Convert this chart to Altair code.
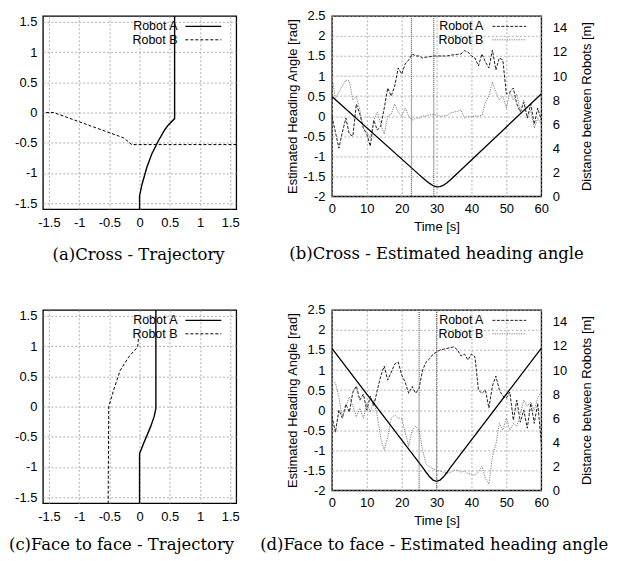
import altair as alt
import pandas as pd

# ---------------- data ----------------
# (a) Cross - Trajectory
a_A_x = [0.0, 0.0, 0.04, 0.12, 0.2, 0.31, 0.42, 0.48, 0.58, 0.58]
a_A_y = [-1.6, -1.38, -1.19, -0.91, -0.69, -0.47, -0.28, -0.2, -0.1, 1.6]
a_B_x = [-1.55, -1.42, -0.26, -0.13, 1.6]
a_B_y = [0.0, 0.0, -0.42, -0.53, -0.53]

# (c) Face to face - Trajectory
c_A_x = [0.0, 0.0, 0.066, 0.18, 0.24, 0.27, 0.27]
c_A_y = [-1.6, -0.78, -0.61, -0.34, -0.17, -0.03, 1.6]
c_B_x = [-0.02, -0.03, -0.18, -0.32, -0.43, -0.51, -0.52]
c_B_y = [1.12, 0.99, 0.82, 0.6, 0.27, 0.0, -1.6]

# time axis for heading estimates
time_s = list(range(61))

# (b) Cross - Estimated heading angle
b_A = [0.0, -0.4, -0.8, -0.4, -0.05, -0.45, -0.5, 0.3, 0.05, -0.3,
       -0.45, -0.75, -0.1, -0.35, -0.25, 0.2, 0.7, 0.5, 0.75, 1.2,
       1.05, 1.3, 1.4, 1.55, 1.5, 1.5, 1.45, 1.47, 1.48, 1.5,
       1.5, 1.5, 1.5, 1.5, 1.52, 1.53, 1.54, 1.55, 1.63, 1.6,
       1.5, 1.45, 1.25, 1.55, 1.35, 1.2, 1.65, 1.15, 1.45, 1.4,
       0.55, 0.6, 0.7, 0.3, 0.1, 0.35, -0.05, 0.3, -0.2, 0.2, -0.1]
b_B = [1.0, 0.45, 0.6, 0.75, 0.9, 0.88, 0.4, 0.5, 0.15, -0.3,
       -0.4, -0.55, -0.1, 0.1, -0.2, -0.45, 0.0, 0.05, 0.3, 0.1,
       0.0, 0.2, 0.0, -0.1, -0.05, -0.05, 0.0, 0.0, 0.03, 0.04,
       0.03, 0.0, 0.0, 0.02, 0.08, 0.1, 0.12, 0.15, -0.05, 0.0,
       -0.02, 0.0, 0.0, 0.02, 0.35, 0.5, 0.85, 0.6, 0.4, 0.5,
       0.2, 0.6, 0.4, 0.55, 0.1, 0.4, 0.0, 0.15, -0.3, -0.05, -0.2]
b_dist_t = [0, 25, 26, 27, 28, 29, 30, 31, 32, 33, 34, 35, 60]
b_dist = [8.3, 1.8, 1.55, 1.3, 1.07, 0.88, 0.78, 0.8, 0.92, 1.12, 1.38, 1.65, 8.5]
b_events = [22.8, 29.2]

# (d) Face to face - Estimated heading angle
d_A = [-0.15, -0.55, 0.0, -0.2, 0.15, -0.05, 0.45, 0.6, 0.25, 0.4,
       0.0, 0.35, 0.1, 0.5, 0.85, 1.1, 0.75, 0.95, 1.15, 1.2,
       0.87, 0.7, 0.42, 0.59, 0.42, 0.55, 1.0, 1.2, 1.28, 1.4,
       1.45, 1.5, 1.52, 1.54, 1.56, 1.58, 1.5, 1.35, 1.4, 1.25,
       1.4, 1.33, 0.5, 0.42, 0.5, 0.05, 0.6, 0.85, 0.5, 0.35,
       0.3, 0.45, -0.25, 0.25, -0.3, 0.0, -0.45, 0.17, -0.33, 0.17, -0.8]
d_B = [0.7, 0.68, 0.33, -0.2, 0.1, 0.33, 0.1, -0.17, 0.05, -0.2,
       0.17, -0.05, 0.25, -0.15, -0.7, -1.0, -0.66, -0.2, -0.12, -0.2,
       -0.2, -0.55, -0.9, -0.5, -0.4, -0.5, -1.0, -1.35, -1.42, -1.46,
       -1.5, -1.52, -1.55, -1.58, -1.55, -1.5, -1.5, -1.55, -1.52, -1.58,
       -1.6, -1.62, -1.55, -1.4, -1.7, -1.85, -1.16, -0.85, -0.33, -0.5,
       -0.2, -0.5, -0.33, -0.4, -0.1, 0.25, 0.1, 0.2, 0.0, 0.3, 0.45]
d_dist_t = [0, 26, 27, 28, 29, 30, 31, 32, 33, 34, 60]
d_dist = [11.8, 1.9, 1.5, 1.12, 0.85, 0.75, 0.85, 1.12, 1.5, 1.9, 11.8]
d_events = [25, 30]

robots = ["Robot A", "Robot B"]
traj_ticks = [-1.5, -1, -0.5, 0, 0.5, 1, 1.5]
time_ticks = [0, 10, 20, 30, 40, 50, 60]
angle_ticks = [-2, -1.5, -1, -0.5, 0, 0.5, 1, 1.5, 2, 2.5]
dist_ticks = [0, 2, 4, 6, 8, 10, 12, 14]

captions = ["(a)Cross - Trajectory", "(b)Cross - Estimated heading angle",
            "(c)Face to face - Trajectory", "(d)Face to face - Estimated heading angle"]

# ---------------- styling ----------------
FONT = "Liberation Sans"
SERIF = "DejaVu Serif"
CAP_SIZE = 16.5
SQ = 194          # trajectory panel size
HW, HH = 210, 181  # heading panel size


def axis(**kw):
    base = dict(grid=True, gridColor="#9a9a9a", gridDash=[2, 2], gridWidth=0.8,
                domain=False, ticks=False, tickSize=0, labelFont=FONT,
                labelFontSize=13, labelColor="black", titleFont=FONT,
                titleFontSize=13, titleFontWeight="normal", titleColor="black",
                labelExpr="toString(datum.value)", labelOverlap=False,
                labelFlush=False)
    base.update(kw)
    return alt.Axis(**base)


def legend(text_end, s0, s1, styles):
    layers = []
    for lab, yy, st in zip(robots, [10.5, 24], styles):
        ldf = pd.DataFrame({"label": [lab]})
        layers.append(
            alt.Chart(ldf).mark_text(align="right", baseline="middle", font=FONT,
                                     fontSize=12.5, color="black")
            .encode(x=alt.value(text_end), y=alt.value(yy), text="label:N"))
        layers.append(
            alt.Chart(ldf).mark_rule(**st)
            .encode(x=alt.value(s0), x2=alt.value(s1), y=alt.value(yy)))
    return layers


def caption(text, anchor, dx, offset):
    return alt.TitleParams(text=text, orient="bottom", anchor=anchor, dx=dx,
                           offset=offset, frame="group", font=SERIF,
                           fontSize=CAP_SIZE, fontWeight="normal", color="black",
                           baseline="top")


def traj_panel(ax_, ay_, bx_, by_, title):
    dfa = pd.DataFrame({"x": ax_, "y": ay_, "i": list(range(len(ax_)))})
    dfb = pd.DataFrame({"x": bx_, "y": by_, "i": list(range(len(bx_)))})
    sc = alt.Scale(domain=[-1.6, 1.6], nice=False, zero=False)
    xa = axis(values=traj_ticks, title=None, labelPadding=7)
    ya = axis(values=traj_ticks, title=None, labelPadding=6)
    la = alt.Chart(dfa).mark_line(color="black", strokeWidth=1.4, clip=True).encode(
        x=alt.X("x:Q", scale=sc, axis=xa),
        y=alt.Y("y:Q", scale=sc, axis=ya),
        order="i:Q")
    lb = alt.Chart(dfb).mark_line(color="black", strokeWidth=1, strokeDash=[3, 2], clip=True).encode(
        x=alt.X("x:Q", scale=sc, axis=xa),
        y=alt.Y("y:Q", scale=sc, axis=ya),
        order="i:Q")
    leg = legend(135, 143, 179, [dict(color="black", strokeWidth=1.4),
                                 dict(color="black", strokeWidth=1, strokeDash=[3, 2])])
    return alt.layer(la, lb, *leg).properties(
        width=SQ, height=SQ, title=title,
        view=alt.ViewBackground(stroke="black", strokeWidth=1.3, fill="white"))


def heading_panel(a_vals, b_vals, dt, dv, events, title):
    n = len(time_s)
    hdf = pd.DataFrame({"t": time_s * 2, "angle": a_vals + b_vals,
                        "robot": [robots[0]] * n + [robots[1]] * n})
    ddf = pd.DataFrame({"t": dt, "d": dv})
    edf = pd.DataFrame({"t": events})
    xs = alt.Scale(domain=[0, 60], nice=False)
    xa = axis(values=time_ticks, title="Time [s]", labelPadding=6, titlePadding=5)
    head = alt.Chart(hdf).mark_line(strokeWidth=1, clip=True).encode(
        x=alt.X("t:Q", scale=xs, axis=xa),
        y=alt.Y("angle:Q", scale=alt.Scale(domain=[-2, 2.5], nice=False),
                axis=axis(values=angle_ticks, title="Estimated Heading Angle [rad]",
                          orient="left", labelPadding=7, titlePadding=3)),
        color=alt.Color("robot:N", scale=alt.Scale(domain=robots, range=["#1e1e1e", "#808080"]), legend=None),
        strokeDash=alt.StrokeDash("robot:N", scale=alt.Scale(domain=robots, range=[[3, 1.5], [1.2, 1.2]]), legend=None),
    )
    ev = alt.Chart(edf).mark_rule(color="#555555", strokeWidth=1.2, strokeDash=[1, 1]).encode(
        x=alt.X("t:Q", scale=xs, axis=xa))
    dist = alt.Chart(ddf).mark_line(color="black", strokeWidth=1.3, clip=True).encode(
        x=alt.X("t:Q", scale=xs, axis=xa),
        y=alt.Y("d:Q", scale=alt.Scale(domain=[0, 15], nice=False),
                axis=axis(values=dist_ticks, grid=False, orient="right",
                          title="Distance between Robots [m]", labelPadding=11,
                          titlePadding=14, titleAngle=270, titleBaseline="top")))
    leg = legend(152, 161, 195, [dict(color="#1e1e1e", strokeWidth=1, strokeDash=[3, 1.5]),
                                 dict(color="#808080", strokeWidth=1, strokeDash=[1.2, 1.2])])
    return alt.layer(head, dist, ev, *leg).resolve_scale(y="independent").properties(
        width=HW, height=HH, title=title,
        view=alt.ViewBackground(stroke="black", strokeWidth=1.3, fill="white"))


pa = traj_panel(a_A_x, a_A_y, a_B_x, a_B_y, caption(captions[0], "middle", -1, 18))
pb = heading_panel(b_A, b_B, b_dist_t, b_dist, b_events, caption(captions[1], "middle", 0, 13))
pc = traj_panel(c_A_x, c_A_y, c_B_x, c_B_y, caption(captions[2], "start", -34, 14))
pd_ = heading_panel(d_A, d_B, d_dist_t, d_dist, d_events, caption(captions[3], "start", -72, 10))

chart = alt.concat(pa, pb, pc, pd_, columns=2, spacing={"row": 101, "column": 96},
                   bounds="flush", align="each").properties(
    padding={"left": 0, "top": 0, "right": 0, "bottom": 0}, background="white"
).configure_axis(labelOverlap=False, labelFlush=False)

chart.save("out.html", embed_options={"renderer": "svg", "actions": False})
